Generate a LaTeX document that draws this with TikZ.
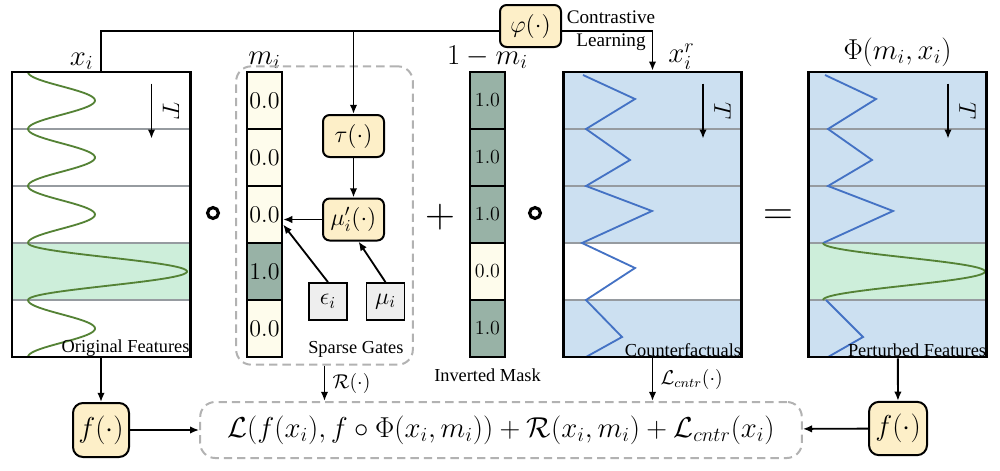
\documentclass[tikz,border=0pt]{standalone}
\usepackage{fontspec}
\setmainfont{Liberation Serif}
\usepackage{amsmath}
\usetikzlibrary{arrows.meta,positioning}

\definecolor{fnyellow}{RGB}{253,239,200}
\definecolor{cellon}{RGB}{152,178,166}
\definecolor{celloff}{RGB}{254,252,236}
\definecolor{cfblue}{RGB}{204,224,241}
\definecolor{bandgreen}{RGB}{205,238,218}
\definecolor{wavegreen}{RGB}{84,130,53}
\definecolor{zigblue}{RGB}{68,114,196}
\definecolor{rowgray}{RGB}{150,155,160}
\definecolor{boxgray}{RGB}{238,238,238}

\newsavebox{\losseqbox}

\tikzset{
  fnbox/.style={draw, line width=1.2pt, rounded corners=4pt, fill=fnyellow, minimum width=36.6pt, minimum height=25.2pt, inner sep=1pt, font=\Large},
  varbox/.style={draw, line width=1pt, fill=boxgray, minimum width=22.8pt, minimum height=22.2pt, inner sep=0pt, font=\Large},
  panel/.style={draw, line width=1.6pt, minimum width=107pt, minimum height=171pt, inner sep=0pt},
  cell/.style={draw, line width=1.3pt, minimum width=21pt, minimum height=34.2pt, inner sep=0pt},
  oncell/.style={fill=cellon},
  offcell/.style={fill=celloff},
  dashbox/.style={draw=gray!60, line width=1.2pt, dash pattern=on 5pt off 3pt, rounded corners=9pt, inner sep=0pt},
  link/.style={-{Latex[length=5.5pt,width=4.5pt]}, line width=1.1pt},
  rowline/.style={rowgray, line width=1.1pt},
  had/.style={circle, draw, line width=1.9pt, inner sep=0pt, minimum size=6.5pt},
  bigop/.style={font=\fontsize{24}{28}\selectfont, inner sep=0pt},
  lbl/.style={font=\fontsize{11}{13}\selectfont},
}

\begin{document}
\sbox{\losseqbox}{\fontsize{18}{22}\selectfont$\mathcal{L}(f(x_i), f\circ\Phi(x_i,m_i)) + \mathcal{R}(x_i,m_i) + \mathcal{L}_{cntr}(x_i)$}%
\begin{tikzpicture}[x=0.6pt, y=-0.6pt]
  \useasboundingbox (0,0) rectangle (1000,470);

  % Original features
  \fill[bandgreen] (12,243) rectangle (190,300);
  \foreach \r in {129,186,243,300}
    \draw[rowline] (12,\r) -- (190,\r);
  \draw[wavegreen, line width=1.1pt] plot[domain=72:243, samples=120, smooth] ({28+33.5*(1-cos((\x-72)/57*360))}, \x);
  \draw[wavegreen, line width=1.1pt] plot[domain=243:300, samples=50, smooth] ({28+79.5*(1-cos((\x-243)/57*360))}, \x);
  \draw[wavegreen, line width=1.1pt] plot[domain=300:357, samples=50, smooth] ({28+33.5*(1-cos((\x-300)/57*360))}, \x);
  \node[panel] (orig) at (101,214.5) {};
  \node[lbl, anchor=south east, inner sep=1pt] (origtxt) at (orig.south east) {Original Features};
  \node[font=\LARGE, above left=-3pt and 1pt of orig.north] (xlab) {$x_i$};

  % Counterfactuals
  \fill[cfblue] (563,72) rectangle (742,243);
  \fill[cfblue] (563,300) rectangle (742,357);
  \foreach \r in {129,186,243,300}
    \draw[rowline] (563,\r) -- (742,\r);
  \draw[zigblue, line width=1.1pt] (583,75) -- (635,99) -- (586,129) -- (630,160) -- (586,186) -- (652,211)
    -- (582,243) -- (635,268) -- (586,300) -- (622,337) -- (586,357);
  \node[panel] (cf) at (652.5,214.5) {};
  \node[lbl, anchor=south east, inner sep=1pt] (cftxt) at (cf.south east) {Counterfactuals};
  \node[font=\LARGE, above right=-3pt and 6pt of cf.north] (xrlab) {$x_i^r$};

  % Perturbed features
  \fill[cfblue] (808,72) rectangle (987,357);
  \fill[bandgreen] (808,243) rectangle (987,300);
  \foreach \r in {129,186,243,300}
    \draw[rowline] (808,\r) -- (987,\r);
  \draw[zigblue, line width=1.1pt] (825,75) -- (876,99) -- (828,129) -- (872,160) -- (828,186) -- (893,211) -- (823,243);
  \draw[wavegreen, line width=1.1pt] plot[domain=243:300, samples=50, smooth] ({823+81*(1-cos((\x-243)/57*360))}, \x);
  \draw[zigblue, line width=1.1pt] (826,300) -- (863,337) -- (828,357);
  \node[panel] (pert) at (897.5,214.5) {};
  \node[lbl, anchor=south east, inner sep=1pt] (perttxt) at (pert.south east) {Perturbed Features};
  \node[font=\LARGE, above=-1pt of pert.north] (philab) {$\Phi(m_i,x_i)$};

  % Time arrows
  \foreach \p/\n in {orig/a,cf/b,pert/c} {
    \path (\p.north east) ++(-40,13) coordinate (t\n s) ++(0,55) coordinate (t\n e);
    \draw[link] (t\n s) -- (t\n e) node[midway, right=3pt, font=\Large] (t\n l) {\rotatebox{-90}{$T$}};
  }

  % Mask
  \foreach \v/\s [count=\k] in {0.0/offcell,0.0/offcell,0.0/offcell,1.0/oncell,0.0/offcell}
    \node[cell, \s, font=\Large] (m\k) at (264.5, 43.5+57*\k) {$\v$};
  \node[font=\LARGE, above=-2pt of m1] (mlab) {$m_i$};

  % Sparse gates
  \node[dashbox, minimum width=106pt, minimum height=179pt] (gates) at (324.5,215.5) {};
  \node[lbl, anchor=south east, inner sep=0pt] (gatetxt) at ([shift={(-10,-8)}]gates.south east) {Sparse Gates};
  \node[fnbox] (tau) at (353.5,136) {$\tau(\cdot)$};
  \node[fnbox] (mup) at (353.5,219.5) {$\mu_i'(\cdot)$};
  \node[varbox] (eps) at (328,301.5) {$\epsilon_i$};
  \node[varbox] (mu) at (385.5,301.5) {$\mu_i$};
  \draw[link] (tau) -- (mup);
  \draw[link] (mup) -- (mup -| m3.east);
  \draw[link] (eps.north) -- ([yshift=-6pt]m3.east);
  \draw[link] (mu.north) -- ([xshift=3pt]mup.south);

  % Inverted mask
  \foreach \v/\s [count=\k] in {1.0/oncell,1.0/oncell,1.0/oncell,0.0/offcell,1.0/oncell}
    \node[cell, \s, font=\large] (n\k) at (487.5, 43.5+57*\k) {$\v$};
  \node[font=\LARGE, above=-2pt of n1] (nlab) {$1-m_i$};
  \node[lbl, below=3pt of n5] (invtxt) {Inverted Mask};

  % Operators
  \node[had] (opa) at (213,213) {};
  \node[bigop] (opb) at (440,217) {$+$};
  \node[had] (opc) at (535,213) {};
  \node[bigop] (opd) at (778,217) {$=$};

  % Contrastive branch
  \node[fnbox] (phi) at (530.5,26) {$\varphi(\cdot)$};
  \coordinate (topl) at ([yshift=-3pt]phi.west);
  \coordinate (topr) at ([yshift=-3pt]phi.east);
  \draw[line width=1.1pt] (orig.north) |- (topl);
  \draw[link] (tau.north |- topl) -- (tau.north);
  \draw[link] (topr) -| (cf.north);
  \node[align=center, inner sep=0pt, font=\fontsize{11.5}{13}\selectfont] (cltxt) at (611,31) {Contrastive\\[1pt]Learning};

  % Loss
  \node[dashbox, minimum width=361pt, minimum height=33.6pt] (lossbox) at (501,430) {};
  \node[inner sep=0pt] (losstxt) at (lossbox.center) {\usebox{\losseqbox}};
  \node[fnbox, minimum width=33.6pt, minimum height=32.4pt, rounded corners=6pt, font=\LARGE] (fa) at (101,430) {$f(\cdot)$};
  \node[fnbox, minimum width=34.8pt, minimum height=32pt, rounded corners=6pt, font=\LARGE] (fb) at (898,428.5) {$f(\cdot)$};
  \draw[link] (orig) -- (fa);
  \draw[link] (pert) -- (fb);
  \draw[link] (fa) -- (lossbox);
  \draw[link] (fb) -- (lossbox);
  \draw[link] (gates.south) -- (gates.south |- lossbox.north) node[midway, right=1pt, font=\large] {$\mathcal{R}(\cdot)$};
  \draw[link] (cf.south) -- (cf.south |- lossbox.north) node[midway, right=1pt, font=\large] {$\mathcal{L}_{cntr}(\cdot)$};
\end{tikzpicture}
\end{document}
